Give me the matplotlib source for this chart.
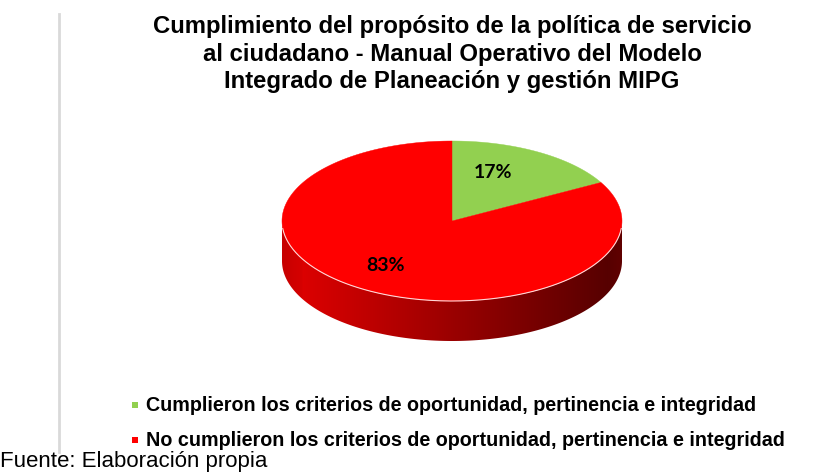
import numpy as np
import matplotlib.pyplot as plt
from matplotlib.patches import Polygon
from matplotlib.colors import to_rgb

# datos
categorias = ['Cumplieron los criterios de oportunidad, pertinencia e integridad',
              'No cumplieron los criterios de oportunidad, pertinencia e integridad']
porcentajes = [17, 83]
colores = ['#92d050', '#ff0000']
titulo = ('Cumplimiento del propósito de la política de servicio\n'
          'al ciudadano - Manual Operativo del Modelo\n'
          'Integrado de Planeación y gestión MIPG')
fuente = 'Fuente: Elaboración propia'

W, H = 834, 473
fig = plt.figure(figsize=(W / 100, H / 100), dpi=100)
ax = fig.add_axes([0, 0, 1, 1])
ax.set_xlim(0, W)
ax.set_ylim(H, 0)
ax.axis('off')

# geometria del pastel 3D
cx, cy, rx, ry, prof = 452, 221, 170, 80, 40


def punto(t):
    return cx + rx * np.cos(t), cy - ry * np.sin(t)


total = sum(porcentajes)
angulos = [90.0]
for v in porcentajes:
    angulos.append(angulos[-1] - 360.0 * v / total)


def color_en(t_deg):
    t = (90.0 - t_deg) % 360.0
    acum = 0
    for v, c in zip(porcentajes, colores):
        acum += 360.0 * v / total
        if t <= acum:
            return c
    return colores[-1]


# lateral con degradado (imagen recortada por el contorno)
ncol = 400
xcol = np.linspace(cx - rx, cx + rx, ncol)
grad = np.zeros((2, ncol, 3))
for j, x in enumerate(xcol):
    t = 2 * np.pi - np.arccos(np.clip((x - cx) / rx, -1, 1))
    base = np.array(to_rgb(color_en(np.degrees(t))))
    f = j / (ncol - 1)
    if f < 0.06:
        brillo = 0.78 + 1.0 * f
    else:
        brillo = 0.86 - 0.52 * (f - 0.06) / 0.9
    if f > 0.96:
        brillo += (f - 0.96) * 1.5
    grad[:, j] = np.clip(base * brillo, 0, 1)

ts = np.linspace(np.pi, 2 * np.pi, 300)
xs, ys = punto(ts)
contorno = list(zip(xs, ys)) + list(zip(xs[::-1], ys[::-1] + prof))
lateral = Polygon(contorno, closed=True, facecolor='none', edgecolor='none')
ax.add_patch(lateral)
img = ax.imshow(grad, extent=(cx - rx, cx + rx, cy + ry + prof + 2, cy - 2),
                aspect='auto', interpolation='bilinear', zorder=1)
img.set_clip_path(lateral)

# cara superior
for i, c in enumerate(colores):
    a0, a1 = np.radians(angulos[i]), np.radians(angulos[i + 1])
    tt = np.linspace(a0, a1, 200)
    xs, ys = punto(tt)
    pts = [(cx, cy)] + list(zip(xs, ys))
    ax.add_patch(Polygon(pts, closed=True, facecolor=c, edgecolor=c, lw=0.3, zorder=2))

# borde claro delantero
tt = np.linspace(np.pi * 1.03, np.pi * 1.97, 200)
xs, ys = punto(tt)
ax.plot(xs, ys, color='#ffd8d8', lw=0.8, zorder=3)

# etiquetas de datos
for i, v in enumerate(porcentajes):
    med = np.radians((angulos[i] + angulos[i + 1]) / 2)
    x = cx - 13 + 0.62 * rx * np.cos(med)
    y = cy - 2 - 0.68 * ry * np.sin(med)
    ax.text(x, y, f'{v}%', ha='center', va='center', fontsize=14,
            fontweight='bold', family='Lato', color='black', zorder=4)

# titulo
ax.text(452, 54, titulo, ha='center', va='center', fontsize=17.2,
        fontweight='bold', family='Liberation Sans', linespacing=1.24)

# linea vertical gris
ax.plot([59, 59], [14, 452], color='#d9d9d9', lw=2)

# leyenda
for i, (cat, c) in enumerate(zip(categorias, colores)):
    y = 405 + 35 * i
    ax.add_patch(Polygon([(132, y - 3), (138, y - 3), (138, y + 3), (132, y + 3)],
                         closed=True, facecolor=c, edgecolor='none'))
    ax.text(146, y, cat, ha='left', va='center', fontsize=14.2,
            fontweight='bold', family='Liberation Sans')

ax.text(0, 472, fuente, ha='left', va='bottom', fontsize=16,
        family='Liberation Sans')

fig.savefig('out.png', dpi=100)
